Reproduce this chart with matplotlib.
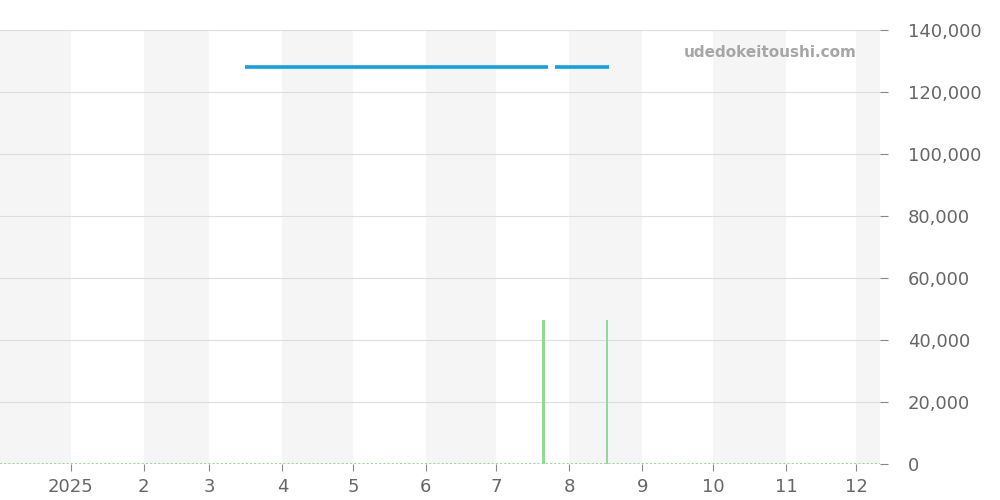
import matplotlib
matplotlib.use("Agg")
import matplotlib.pyplot as plt
import pandas as pd
from matplotlib.ticker import FuncFormatter, MultipleLocator

# ---- data ----
price_seg1_dates = ["2025-03-16", "2025-07-23"]
price_seg1_values = [128000, 128000]
price_seg2_dates = ["2025-07-26", "2025-08-18"]
price_seg2_values = [128000, 128000]
bar_dates = ["2025-07-21", "2025-08-17"]
bar_values = [46500, 46500]
x_start, x_end = "2024-12-02", "2025-12-11"
month_starts = ["2024-12-01", "2025-01-01", "2025-02-01", "2025-03-01", "2025-04-01",
                "2025-05-01", "2025-06-01", "2025-07-01", "2025-08-01", "2025-09-01",
                "2025-10-01", "2025-11-01", "2025-12-01", "2026-01-01"]
tick_labels = ["2025", "2", "3", "4", "5", "6", "7", "8", "9", "10", "11", "12"]
y_max = 140000

fig = plt.figure(figsize=(10, 5), dpi=100)
ax = fig.add_axes([0.0, 0.072, 0.88, 0.868])

xs = pd.to_datetime(x_start)
xe = pd.to_datetime(x_end)
ms = pd.to_datetime(month_starts)

# alternating month shading
for i in range(len(ms) - 1):
    if i % 2 == 0:
        ax.axvspan(ms[i], ms[i + 1], color="#f5f5f5", zorder=0, lw=0)

ax.set_xlim(xs, xe)
ax.set_ylim(0, y_max)

# grid
ax.yaxis.set_major_locator(MultipleLocator(20000))
ax.grid(axis="y", color="#dddddd", lw=0.8, zorder=1)
ax.grid(axis="x", visible=False)

# baseline dotted green
ax.plot([xs, xe], [0, 0], color="#9fd89f", lw=1.5, ls=(0, (1, 1)), zorder=2)

# volume-like bars
ax.bar(pd.to_datetime(bar_dates), bar_values, width=0.9, color="#94d894", lw=0, zorder=3)

# price line
ax.plot(pd.to_datetime(price_seg1_dates), price_seg1_values, color="#12a0e2", lw=2.6, zorder=4, solid_capstyle="butt")
ax.plot(pd.to_datetime(price_seg2_dates), price_seg2_values, color="#12a0e2", lw=2.6, zorder=4, solid_capstyle="butt")

# axes styling
for s in ["top", "left", "right", "bottom"]:
    ax.spines[s].set_visible(False)
ax.yaxis.tick_right()
ax.yaxis.set_major_formatter(FuncFormatter(lambda v, p: f"{int(v):,}"))
ax.tick_params(axis="y", colors="#888888", labelcolor="#666666", labelsize=13, length=6, pad=14, width=0.8)
ax.set_xticks(ms[1:13])
ax.set_xticklabels(tick_labels)
ax.tick_params(axis="x", colors="#888888", labelcolor="#666666", labelsize=13, length=5, pad=5, width=0.8)

ax.text(0.974, 0.948, "udedokeitoushi.com", transform=ax.transAxes, ha="right", va="center",
        fontsize=11, fontweight="bold", color="#a6a6a6", zorder=5)

fig.savefig("out.png", dpi=100)
